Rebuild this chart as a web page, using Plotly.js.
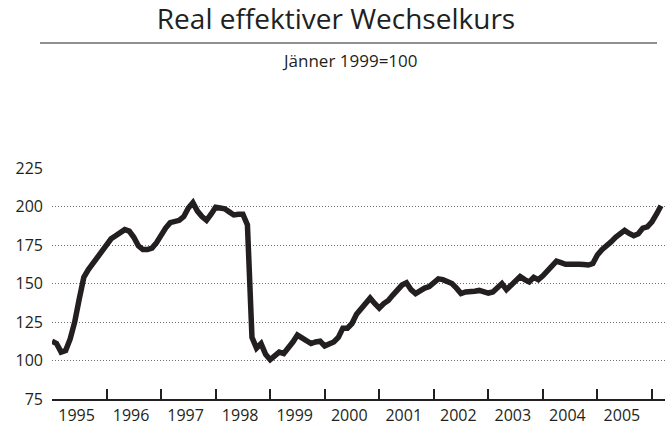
<!DOCTYPE html>
<html>
<head>
<meta charset="utf-8">
<script src="https://cdn.plot.ly/plotly-3.0.1.min.js"></script>
<style>html,body{margin:0;padding:0;background:#fff;}#chart{width:672px;height:434px;}</style>
</head>
<body>
<div id="chart"></div>
<script>
// Monthly data, January 1995 – March 2006 (index, Jänner 1999 = 100)
const startYear = 1995;
const startMonth = 1;
const values = [
  112.5, 111, 105.5, 106.5, 114, 125, 140, 154, 159, 163, 167, 171,
  176, 179, 181, 183, 185, 184, 180, 174.5, 172, 172, 173, 176.5,
  182, 186, 189.5, 190.5, 191, 193.5, 199, 202.5, 197, 193.5, 191, 195,
  199.5, 199, 198.5, 196.5, 194.5, 195, 195, 188, 115, 108, 111, 104,
  100.5, 103, 105.5, 104.5, 108, 112, 116.5, 114.5, 112.5, 111, 112, 112.5,
  109.5, 110.5, 112, 115, 121, 121, 124, 130, 134, 137.5, 140.5, 137,
  134, 137, 139, 142.5, 146, 149, 150.5, 146, 143.5, 145.5, 147, 148,
  151, 153, 152.5, 151.5, 150, 147, 143.5, 144.5, 144.5, 145, 145.5, 144.5,
  143.8, 144.5, 147.5, 150, 146, 149, 152.5, 154.5, 152.5, 151, 154, 152.5,
  155, 158.5, 162, 164.5, 163.5, 162.5, 162.5, 162.8, 162.5, 162.3, 162, 163,
  168.5, 172, 174, 177, 180, 182.5, 184.5, 182.5, 181, 182.3, 186, 186.8,
  190, 195, 200.5
];
const yearLabels = ['1995','1996','1997','1998','1999','2000','2001','2002','2003','2004','2005'];
const yTicks = [75, 100, 125, 150, 175, 200, 225];
const titleText = 'Real effektiver Wechselkurs';
const subtitleText = 'Jänner 1999=100';

// decimal-year x for each month
const xs = values.map((v, i) => startYear + (startMonth - 1 + i) / 12);
const years = yearLabels.map(Number);
const axisEnd = 2006.24;
const tickVals = years.concat([years[years.length - 1] + 1, axisEnd]);
const labelVals = years.map(y => y + 0.45);

const ink = '#231f20';
const font = "'Open Sans', 'Noto Sans', sans-serif";

const data = [
  {
    x: xs, y: values, type: 'scatter', mode: 'lines',
    line: {color: ink, width: 5.5, shape: 'linear'},
    hoverinfo: 'skip', showlegend: false, cliponaxis: false
  },
  {
    x: labelVals, y: labelVals.map(() => null), xaxis: 'x2', type: 'scatter',
    mode: 'lines', showlegend: false, hoverinfo: 'skip'
  }
];

const layout = {
  width: 672, height: 434,
  margin: {l: 52, r: 7, t: 168, b: 35},
  paper_bgcolor: '#fff', plot_bgcolor: '#fff',
  font: {family: font, color: ink, size: 16},
  title: {
    text: titleText, x: 0.5, xref: 'container', xanchor: 'center',
    y: 1 - 19 / 434, yref: 'container', yanchor: 'middle',
    font: {family: font, size: 28, color: ink}
  },
  xaxis: {
    range: [startYear, axisEnd], showgrid: false, zeroline: false,
    showline: true, linecolor: ink, linewidth: 2,
    ticks: 'inside', ticklen: 10, tickwidth: 2, tickcolor: ink,
    tickmode: 'array', tickvals: tickVals, ticktext: tickVals.map(() => ''),
    fixedrange: true
  },
  xaxis2: {
    overlaying: 'x', anchor: 'y', side: 'bottom',
    range: [startYear, axisEnd], showgrid: false, zeroline: false, showline: false,
    ticks: '', tickmode: 'array', tickvals: labelVals, ticktext: yearLabels,
    tickfont: {family: font, size: 16, color: ink}, ticklabelstandoff: 5,
    fixedrange: true
  },
  yaxis: {
    range: [75, 225], showline: false, zeroline: false,
    tickmode: 'array', tickvals: yTicks, ticks: '',
    showgrid: true, gridcolor: '#6f6f6f', gridwidth: 1, griddash: '1px,2px',
    tickfont: {family: font, size: 16, color: ink}, ticklabelstandoff: 8,
    fixedrange: true
  },
  shapes: [
    {type: 'line', xref: 'paper', yref: 'paper',
     x0: (40 - 52) / 613, x1: (657 - 52) / 613,
     y0: (399 - 43) / 231, y1: (399 - 43) / 231,
     line: {color: ink, width: 1}}
  ],
  annotations: [
    {text: subtitleText, xref: 'paper', yref: 'paper', x: 0.5 - 9 / 613, y: (399 - 60) / 231,
     xanchor: 'center', yanchor: 'middle', showarrow: false,
     font: {family: font, size: 17, color: ink}}
  ]
};

Plotly.newPlot('chart', data, layout, {staticPlot: true, displayModeBar: false});
</script>
</body>
</html>
